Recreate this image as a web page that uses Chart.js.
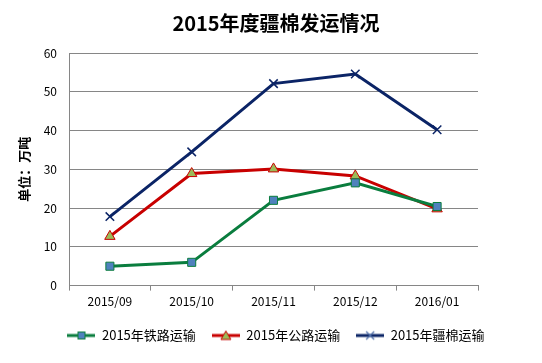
<!DOCTYPE html>
<html>
<head>
<meta charset="utf-8">
<script src="https://cdn.jsdelivr.net/npm/chart.js@4.4.0/dist/chart.umd.min.js"></script>
<style>
  html, body { margin: 0; padding: 0; background: #fff; }
  #wrap { width: 542px; height: 363px; }
</style>
</head>
<body>
<div id="wrap"><canvas id="grafico" width="542" height="363"></canvas></div>
<script>
// --- datos ---
const meses = ["2015/09", "2015/10", "2015/11", "2015/12", "2016/01"];
const tielu = [5.0, 6.0, 22.0, 26.5, 20.4];      // 2015年铁路运输
const gonglu = [12.7, 28.9, 30.1, 28.3, 19.8];   // 2015年公路运输
const jiangmian = [17.8, 34.5, 52.1, 54.6, 40.2]; // 2015年疆棉运输

const fuente = "'Noto Sans CJK SC', 'Open Sans', sans-serif";
const gris = "#868686";

// icono de leyenda: linea + marcador
function iconoLeyenda(color, dibujar) {
  const c = document.createElement("canvas");
  c.width = 28; c.height = 12;
  const g = c.getContext("2d");
  g.strokeStyle = color;
  g.lineWidth = 3;
  g.beginPath(); g.moveTo(0, 6); g.lineTo(28, 6); g.stroke();
  dibujar(g);
  return c;
}

const iconos = [
  iconoLeyenda("#0a7d3e", g => {
    g.fillStyle = "#4f81bd"; g.strokeStyle = "#0a7d3e"; g.lineWidth = 1;
    g.fillRect(10, 2, 8, 8); g.strokeRect(10.5, 2.5, 7, 7);
  }),
  iconoLeyenda("#c80000", g => {
    g.fillStyle = "#9bbb59"; g.strokeStyle = "#c80000"; g.lineWidth = 1;
    g.beginPath(); g.moveTo(14, 1.5); g.lineTo(19, 10); g.lineTo(9, 10); g.closePath();
    g.fill(); g.stroke();
  }),
  iconoLeyenda("#0b2466", g => {
    g.strokeStyle = "#4f6fa8"; g.lineWidth = 1.2;
    g.beginPath(); g.moveTo(10, 2); g.lineTo(18, 10); g.moveTo(18, 2); g.lineTo(10, 10); g.stroke();
  })
];

const ctx = document.getElementById("grafico").getContext("2d");

new Chart(ctx, {
  type: "line",
  data: {
    labels: meses,
    datasets: [
      {
        label: "2015年铁路运输",
        data: tielu,
        borderColor: "#0a7d3e",
        borderWidth: 3,
        pointStyle: "rect",
        pointRadius: 5.7,
        pointBackgroundColor: "#4f81bd",
        pointBorderColor: "#0a7d3e",
        pointBorderWidth: 1,
        tension: 0
      },
      {
        label: "2015年公路运输",
        data: gonglu,
        borderColor: "#c80000",
        borderWidth: 3,
        pointStyle: "triangle",
        pointRadius: 6,
        pointBackgroundColor: "#9bbb59",
        pointBorderColor: "#c80000",
        pointBorderWidth: 1,
        tension: 0
      },
      {
        label: "2015年疆棉运输",
        data: jiangmian,
        borderColor: "#0b2466",
        borderWidth: 3,
        pointStyle: "crossRot",
        pointRadius: 6,
        pointBorderColor: "#0b2466",
        pointBorderWidth: 1.5,
        tension: 0
      }
    ]
  },
  options: {
    responsive: false,
    animation: false,
    layout: { padding: { left: 10, right: 0, top: 0, bottom: 11 } },
    plugins: {
      title: {
        display: true,
        text: "2015年度疆棉发运情况",
        color: "#000",
        font: { family: fuente, size: 20, weight: "bold" },
        padding: { top: 11, bottom: 18 }
      },
      legend: {
        position: "bottom",
        labels: {
          usePointStyle: true,
          pointStyleWidth: 28,
          color: "#000",
          font: { family: fuente, size: 13 },
          padding: 16,
          generateLabels: (chart) => {
            const items = Chart.defaults.plugins.legend.labels.generateLabels(chart);
            items.forEach((it, i) => { it.pointStyle = iconos[i]; });
            return items;
          }
        }
      },
      tooltip: { enabled: false }
    },
    scales: {
      x: {
        offset: true,
        grid: { display: true, drawOnChartArea: false, drawTicks: true, tickLength: 5, color: gris, offset: true },
        border: { color: gris, width: 1 },
        ticks: { color: "#000", font: { family: fuente, size: 12 }, padding: 4 }
      },
      y: {
        min: 0,
        max: 60,
        ticks: { stepSize: 10, color: "#000", font: { family: fuente, size: 12 }, padding: 12 },
        grid: { color: gris, drawTicks: false },
        border: { color: gris, width: 1 },
        title: {
          display: true,
          text: "单位：万吨",
          color: "#000",
          font: { family: fuente, size: 13, weight: "bold" },
          padding: { top: 6, bottom: 4 }
        },
        afterFit: (s) => { s.width = 59; }
      },
      derecha: {
        type: "linear",
        position: "right",
        display: true,
        grid: { display: false },
        border: { display: false },
        ticks: { display: false },
        afterFit: (s) => { s.width = 64; }
      }
    }
  }
});
</script>
</body>
</html>
